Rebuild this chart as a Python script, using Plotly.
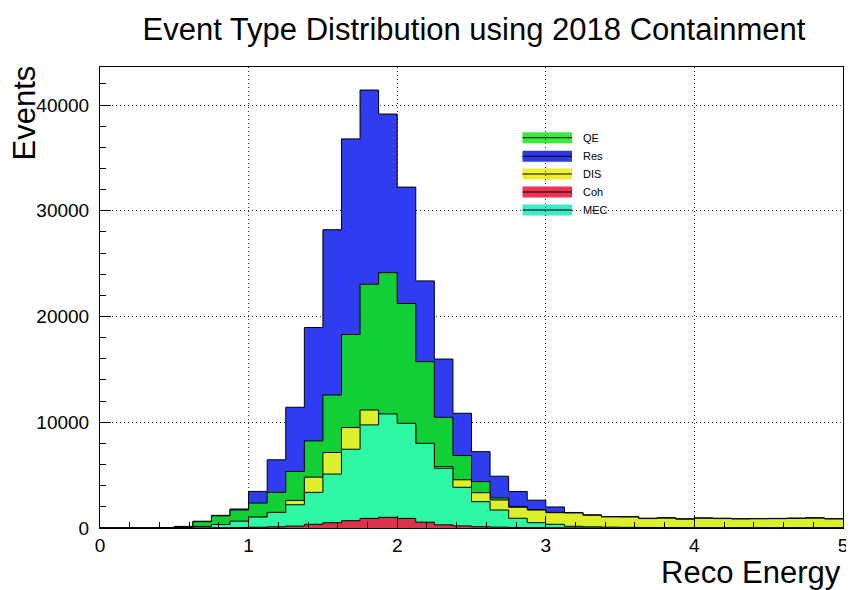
import plotly.graph_objects as go

# 40 bins of width 0.125 GeV from 0 to 5 (Reco Energy)
bin_edges = [round(0.125 * i, 3) for i in range(41)]

# Visible top (cumulative level) of each component per bin
res_top = [0, 0, 0, 40, 150, 640, 1200, 1800, 3460, 6450,
           11420, 18960, 28210, 36800, 41420, 39150, 32240, 23370, 15980, 10850,
           7220, 4900, 3450, 2630, 1990, 1470, 1240, 1080, 1070, 920,
           960, 860, 950, 920, 880, 900, 910, 930, 960, 880]
qe_top = [0, 0, 0, 30, 130, 600, 1150, 1700, 2360, 3370,
          5350, 8240, 12580, 18300, 23050, 24150, 21230, 15730, 10470, 6850,
          4390, 2850, 2050, 1750, 1480, 1440, 1220, 1070, 1060, 910,
          950, 850, 940, 910, 870, 890, 900, 920, 950, 870]
dis_top = [0, 0, 0, 10, 30, 100, 250, 500, 1000, 1450,
           2610, 4810, 7140, 9500, 11160, 10600, 9700, 7900, 5800, 4560,
           3340, 2650, 1960, 1700, 1450, 1420, 1200, 1050, 1040, 890,
           930, 830, 920, 890, 850, 870, 880, 900, 930, 850]
mec_top = [0, 0, 0, 10, 40, 150, 330, 650, 1040, 1480,
           2200, 3370, 5100, 7450, 9750, 10790, 9900, 8010, 5650, 3850,
           2490, 1700, 920, 500, 350, 160, 110, 80, 60, 50,
           40, 40, 30, 30, 30, 30, 30, 30, 30, 30]
coh_top = [0, 0, 0, 0, 0, 10, 20, 40, 70, 110,
           180, 350, 500, 690, 910, 1010, 910, 550, 300, 200,
           120, 80, 50, 30, 20, 10, 5, 0, 0, 0,
           0, 0, 0, 0, 0, 0, 0, 0, 0, 0]

series_names = ["Res", "QE", "DIS", "MEC", "Coh"]
series_tops = [res_top, qe_top, dis_top, mec_top, coh_top]
fill_colors = {"Res": "#2f3cf0", "QE": "#12cf36", "DIS": "#dcee2c",
               "MEC": "#2ef8a4", "Coh": "#d8344c"}

legend_order = ["QE", "Res", "DIS", "Coh", "MEC"]
legend_colors = {"QE": "#36ec3c", "Res": "#2a3ae6", "DIS": "#f0ee30",
                 "Coh": "#ee3452", "MEC": "#36eec8"}

FONT = "Liberation Sans, Arial, Helvetica, sans-serif"

fig = go.Figure()
for name, tops in zip(series_names, series_tops):
    fig.add_trace(go.Scatter(
        x=bin_edges, y=tops + [tops[-1]],
        mode="lines", line=dict(shape="hv", color="black", width=1),
        fill="tozeroy", fillcolor=fill_colors[name],
        name=name, showlegend=False, hoverinfo="skip"))

# page has an 8px body margin: the figure is placed at (8, 8)
OFF = 8
W, H = 846, 582
L, R, T, B = 92, 11, 59, 62
pw, ph = W - L - R, H - T - B


def px_x(x):  # page pixel -> paper
    return (x - OFF - L) / pw


def px_y(y):
    return (H - B - (y - OFF)) / ph


shapes = []
annotations = []
row_y = [137.7, 156.3, 174.0, 192.0, 210.0]
for name, yc in zip(legend_order, row_y):
    shapes.append(dict(type="rect", xref="paper", yref="paper",
                       x0=px_x(522.5), x1=px_x(572), y0=px_y(yc + 5.5), y1=px_y(yc - 5.5),
                       fillcolor=legend_colors[name], line=dict(width=0), layer="below"))
    shapes.append(dict(type="line", xref="paper", yref="paper",
                       x0=px_x(522.5), x1=px_x(572), y0=px_y(yc), y1=px_y(yc),
                       line=dict(color="black", width=1), layer="below"))
    annotations.append(dict(text=name, xref="paper", yref="paper",
                            x=px_x(581), y=px_y(yc), xanchor="left", yanchor="middle",
                            showarrow=False, font=dict(family=FONT, size=11, color="black")))

annotations.append(dict(text="Events", xref="paper", yref="paper",
                        x=px_x(24), y=px_y(64), xanchor="center", yanchor="top",
                        textangle=-90, showarrow=False,
                        font=dict(family=FONT, size=31, color="black")))
annotations.append(dict(text="Reco Energy", xref="paper", yref="paper",
                        x=1.0, y=px_y(572), xanchor="right", yanchor="middle",
                        showarrow=False, font=dict(family=FONT, size=31, color="black")))

fig.update_layout(
    width=W, height=H,
    margin=dict(l=L, r=R, t=T, b=B, autoexpand=False),
    paper_bgcolor="white", plot_bgcolor="white",
    title=dict(text="Event Type Distribution using 2018 Containment",
               x=(474 - OFF) / W, xanchor="center", y=1 - (29 - OFF) / H, yanchor="middle",
               font=dict(family=FONT, size=31, color="black")),
    shapes=shapes, annotations=annotations,
    showlegend=False,
    xaxis=dict(range=[0, 5], dtick=1, tick0=0, ticks="inside", ticklen=12,
               tickcolor="black", tickwidth=1,
               minor=dict(dtick=0.2, tick0=0, ticks="inside", ticklen=6,
                          tickcolor="black", showgrid=False),
               showgrid=True, gridcolor="#333333", griddash="1px,3px", gridwidth=1,
               showline=True, linecolor="black", linewidth=1, mirror=True,
               zeroline=False, tickfont=dict(family=FONT, size=19, color="black"),
               ticklabelstandoff=0),
    yaxis=dict(range=[0, 43600], dtick=10000, tick0=0, ticks="inside", ticklen=11,
               tickcolor="black", tickwidth=1, tickformat="d",
               minor=dict(dtick=2000, tick0=0, ticks="inside", ticklen=6,
                          tickcolor="black", showgrid=False),
               showgrid=True, gridcolor="#333333", griddash="1px,3px", gridwidth=1,
               showline=True, linecolor="black", linewidth=1, mirror=True,
               zeroline=False, tickfont=dict(family=FONT, size=19, color="black"),
               ticklabelstandoff=6),
)

fig.write_html("out.html")
